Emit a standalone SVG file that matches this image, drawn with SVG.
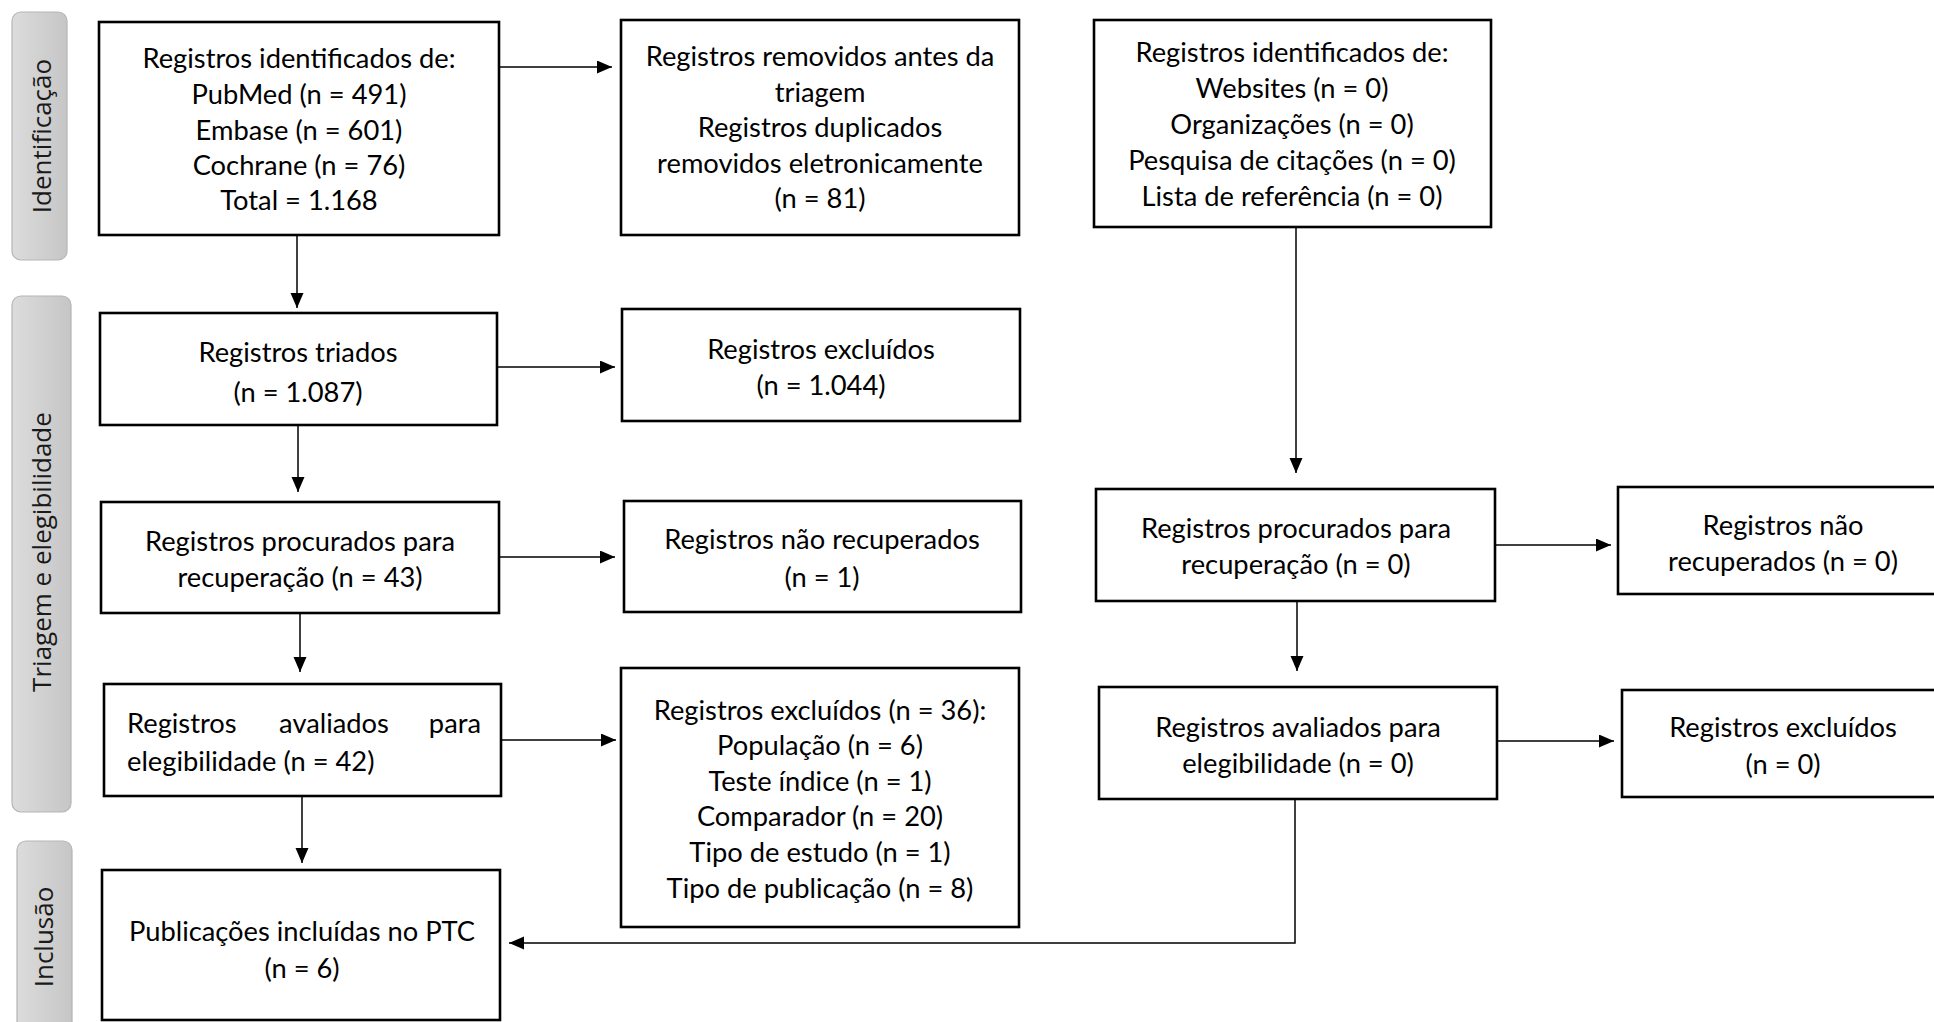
<svg xmlns="http://www.w3.org/2000/svg" width="1934" height="1022" viewBox="0 0 1934 1022">
<style>
.box{fill:#fff;stroke:#000;stroke-width:2.6}
.t{font-family:Lato,"Liberation Sans",sans-serif;font-size:27.3px;fill:#000;text-anchor:middle}
.tl{font-family:Lato,"Liberation Sans",sans-serif;font-size:27.3px;fill:#000}
.lab{fill:url(#lg);stroke:#b5b5b5;stroke-width:1.2}
.lt{font-family:"Open Sans","DejaVu Sans",sans-serif;font-size:26px;fill:#1a1a1a;text-anchor:middle}
.c{fill:none;stroke:#000;stroke-width:1.5}
</style>
<defs>
<linearGradient id="lg" x1="0" y1="0" x2="1" y2="0">
<stop offset="0" stop-color="#dcdcdc"/>
<stop offset="1" stop-color="#c6c6c6"/>
</linearGradient>
<marker id="ah" markerUnits="userSpaceOnUse" markerWidth="16" markerHeight="14" refX="15" refY="6.5" orient="auto">
<path d="M0,0 L15,6.5 L0,13 z" fill="#000"/>
</marker>
</defs>

<g id="label-identificacao">
<rect class="lab" x="12" y="12" width="55" height="248" rx="9"/>
<text class="lt" transform="translate(51,136) rotate(-90)">Identificação</text>
</g>
<g id="label-triagem">
<rect class="lab" x="12" y="296" width="59" height="516" rx="9"/>
<text class="lt" transform="translate(51,552) rotate(-90)">Triagem e elegibilidade</text>
</g>
<g id="label-inclusao">
<rect class="lab" x="17" y="841" width="55" height="200" rx="9"/>
<text class="lt" transform="translate(53,937) rotate(-90)">Inclusão</text>
</g>

<g id="connectors">
<path class="c" d="M499,67 H612" marker-end="url(#ah)"/>
<path class="c" d="M297,235 V308" marker-end="url(#ah)"/>
<path class="c" d="M497,367 H615" marker-end="url(#ah)"/>
<path class="c" d="M298,425 V492" marker-end="url(#ah)"/>
<path class="c" d="M499,557 H615" marker-end="url(#ah)"/>
<path class="c" d="M300,613 V672" marker-end="url(#ah)"/>
<path class="c" d="M501,740 H616" marker-end="url(#ah)"/>
<path class="c" d="M302,796 V863" marker-end="url(#ah)"/>
<path class="c" d="M1296,227 V473" marker-end="url(#ah)"/>
<path class="c" d="M1495,545 H1611" marker-end="url(#ah)"/>
<path class="c" d="M1297,601 V671" marker-end="url(#ah)"/>
<path class="c" d="M1497,741 H1614" marker-end="url(#ah)"/>
<path class="c" d="M1295,799 V943 H509" marker-end="url(#ah)"/>
</g>

<g id="n-identificados">
<rect class="box" x="99" y="22" width="400" height="213"/>
<text class="t" x="299" y="68">Registros identificados de:</text>
<text class="t" x="299" y="104">PubMed (n = 491)</text>
<text class="t" x="299" y="140">Embase (n = 601)</text>
<text class="t" x="299" y="175">Cochrane (n = 76)</text>
<text class="t" x="299" y="210">Total = 1.168</text>
</g>
<g id="n-removidos">
<rect class="box" x="621" y="20" width="398" height="215"/>
<text class="t" x="820" y="66">Registros removidos antes da</text>
<text class="t" x="820" y="102">triagem</text>
<text class="t" x="820" y="137">Registros duplicados</text>
<text class="t" x="820" y="173">removidos eletronicamente</text>
<text class="t" x="820" y="208">(n = 81)</text>
</g>
<g id="n-outros">
<rect class="box" x="1094" y="20" width="397" height="207"/>
<text class="t" x="1292" y="62">Registros identificados de:</text>
<text class="t" x="1292" y="98">Websites (n = 0)</text>
<text class="t" x="1292" y="134">Organizações (n = 0)</text>
<text class="t" x="1292" y="170">Pesquisa de citações (n = 0)</text>
<text class="t" x="1292" y="206">Lista de referência (n = 0)</text>
</g>
<g id="n-triados">
<rect class="box" x="100" y="313" width="397" height="112"/>
<text class="t" x="298" y="362">Registros triados</text>
<text class="t" x="298" y="402">(n = 1.087)</text>
</g>
<g id="n-excluidos1">
<rect class="box" x="622" y="309" width="398" height="112"/>
<text class="t" x="821" y="359">Registros excluídos</text>
<text class="t" x="821" y="395">(n = 1.044)</text>
</g>
<g id="n-procurados">
<rect class="box" x="101" y="502" width="398" height="111"/>
<text class="t" x="300" y="551">Registros procurados para</text>
<text class="t" x="300" y="587">recuperação (n = 43)</text>
</g>
<g id="n-naorecuperados">
<rect class="box" x="624" y="501" width="397" height="111"/>
<text class="t" x="822" y="549">Registros não recuperados</text>
<text class="t" x="822" y="587">(n = 1)</text>
</g>
<g id="n-procurados2">
<rect class="box" x="1096" y="489" width="399" height="112"/>
<text class="t" x="1296" y="538">Registros procurados para</text>
<text class="t" x="1296" y="574">recuperação (n = 0)</text>
</g>
<g id="n-naorecuperados2">
<rect class="box" x="1618" y="487" width="330" height="107"/>
<text class="t" x="1783" y="535">Registros não</text>
<text class="t" x="1783" y="571">recuperados (n = 0)</text>
</g>
<g id="n-avaliados">
<rect class="box" x="104" y="684" width="397" height="112"/>
<text class="tl" x="127" y="733">Registros</text>
<text class="t" x="334" y="733">avaliados</text>
<text class="tl" x="481" y="733" text-anchor="end">para</text>
<text class="tl" x="127" y="771">elegibilidade (n = 42)</text>
</g>
<g id="n-excluidos36">
<rect class="box" x="621" y="668" width="398" height="259"/>
<text class="t" x="820" y="720">Registros excluídos (n = 36):</text>
<text class="t" x="820" y="755">População (n = 6)</text>
<text class="t" x="820" y="791">Teste índice (n = 1)</text>
<text class="t" x="820" y="826">Comparador (n = 20)</text>
<text class="t" x="820" y="862">Tipo de estudo (n = 1)</text>
<text class="t" x="820" y="898">Tipo de publicação (n = 8)</text>
</g>
<g id="n-avaliados2">
<rect class="box" x="1099" y="687" width="398" height="112"/>
<text class="t" x="1298" y="737">Registros avaliados para</text>
<text class="t" x="1298" y="773">elegibilidade (n = 0)</text>
</g>
<g id="n-excluidos2">
<rect class="box" x="1622" y="690" width="330" height="107"/>
<text class="t" x="1783" y="737">Registros excluídos</text>
<text class="t" x="1783" y="774">(n = 0)</text>
</g>
<g id="n-incluidos">
<rect class="box" x="102" y="870" width="398" height="150"/>
<text class="t" x="302" y="941">Publicações incluídas no PTC</text>
<text class="t" x="302" y="978">(n = 6)</text>
</g>
</svg>
